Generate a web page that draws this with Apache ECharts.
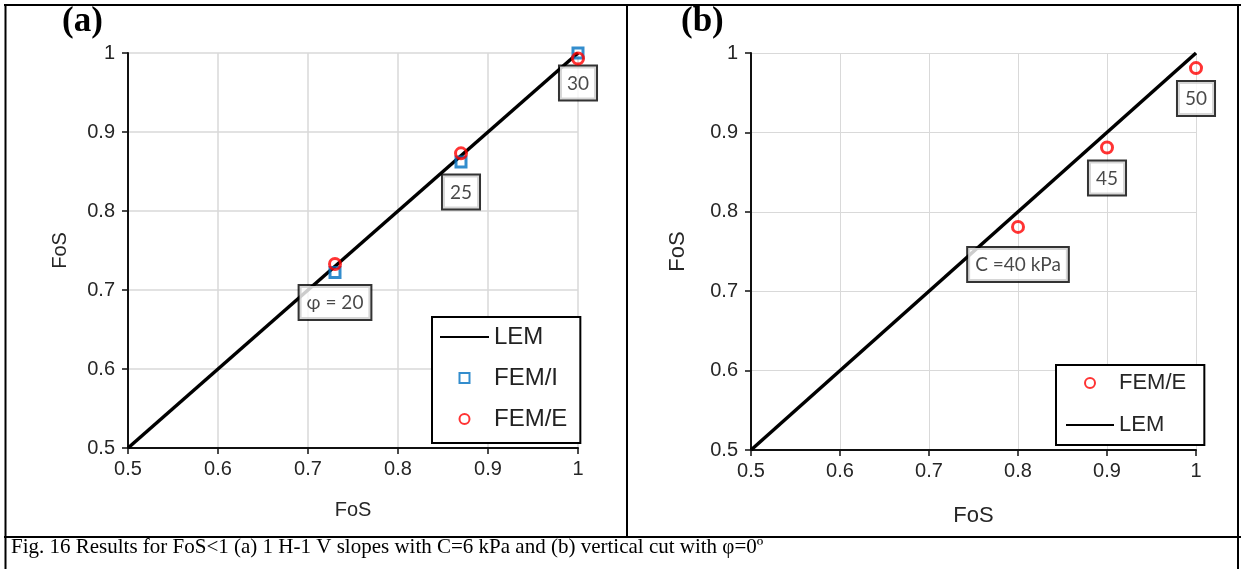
<!DOCTYPE html>
<html><head><meta charset="utf-8">
<script src="https://cdn.jsdelivr.net/npm/echarts@6/dist/echarts.min.js"></script>
<style>html,body{margin:0;padding:0;background:#fff}#c{width:1241px;height:569px}</style>
</head><body><div id="c"></div>
<script>
// ---- data ----
const lemX = [0.5, 1.0];
const lemY = [0.5, 1.0];
const aFemIX = [0.73, 0.87, 1.0];
const aFemIY = [0.722, 0.862, 1.0];
const aFemEX = [0.73, 0.87, 1.0];
const aFemEY = [0.733, 0.873, 0.993];
const aLabels = ['φ = 20', '25', '30'];
const bFemEX = [0.8, 0.9, 1.0];
const bFemEY = [0.781, 0.881, 0.981];
const bLabels = ['C =40 kPa', '45', '50'];
const axisMin = 0.5, axisMax = 1.0, axisStep = 0.1;
const axisTitle = 'FoS';
const panelA = '(a)', panelB = '(b)';
const caption = 'Fig. 16 Results for FoS<1 (a) 1 H-1 V slopes with C=6 kPa and (b) vertical cut with φ=0º';

// ---- helpers ----
const zip = (xs, ys) => xs.map((x, i) => [x, ys[i]]);
const SANS = 'Liberation Sans, Arial, sans-serif';
function mkAxis(gi, isX, nameGap, nameSize, gridW) {
  return {
    type: 'value', gridIndex: gi, min: axisMin, max: axisMax, interval: axisStep,
    name: axisTitle, nameLocation: 'middle', nameGap: nameGap,
    nameTextStyle: {fontFamily: SANS, fontSize: nameSize, color: '#262626'},
    axisLine: {show: true, onZero: false, lineStyle: {color: '#111', width: 2}},
    axisTick: {show: true, length: 6, inside: false, lineStyle: {color: '#111', width: 1.5}},
    axisLabel: {fontFamily: SANS, fontSize: 20, color: '#262626', margin: isX ? 11 : 13},
    splitLine: {show: true, lineStyle: {color: '#d9d9d9', width: gridW}}
  };
}
const labelBox = {
  show: true, position: 'bottom', distance: 7,
  backgroundColor: '#fff', borderColor: '#000', borderWidth: 2,
  padding: [6, 7, 5, 7], fontFamily: 'Lato, Open Sans, sans-serif', fontSize: 19,
  color: '#1a1a1a', lineHeight: 22
};
const hideDot = {opacity: 0};
const squareIcon = 'path://M0,0L10,0L10,10L0,10Z';

const chart = echarts.init(document.getElementById('c'), null, {renderer: 'canvas'});
const option = {
  backgroundColor: '#fff',
  animation: false,
  grid: [
    {left: 128, top: 53, width: 450, height: 395},
    {left: 751, top: 53, width: 445, height: 397}
  ],
  xAxis: [mkAxis(0, true, 52, 20, 1.5), mkAxis(1, true, 55, 22, 1)],
  yAxis: [mkAxis(0, false, 58, 20, 1.5), mkAxis(1, false, 62, 22, 1)],
  legend: [
    {
      left: 432, top: 317, orient: 'vertical', symbolKeepAspect: true,
      data: [{name: 'LEM', itemStyle: hideDot}, {name: 'FEM/I', icon: squareIcon}, {name: 'FEM/E'}],
      itemWidth: 49, itemHeight: 10, itemGap: 17,
      padding: [8, 13, 12, 7],
      borderColor: '#000', borderWidth: 2, backgroundColor: '#fff',
      textStyle: {fontFamily: SANS, fontSize: 24, color: '#222', lineHeight: 24}
    },
    {
      left: 1056, top: 365, orient: 'vertical', symbolKeepAspect: true,
      data: [{name: 'FEM/E '}, {name: 'LEM ', itemStyle: hideDot}],
      itemWidth: 48, itemHeight: 10, itemGap: 20,
      padding: [7, 12, 9, 9],
      borderColor: '#000', borderWidth: 2, backgroundColor: '#fff',
      textStyle: {fontFamily: SANS, fontSize: 22, color: '#262626', lineHeight: 22}
    }
  ],
  series: [
    {
      name: 'LEM', type: 'line', xAxisIndex: 0, yAxisIndex: 0,
      data: zip(lemX, lemY), symbol: 'none', z: 2,
      lineStyle: {color: '#000', width: 3.5}, itemStyle: {color: '#000'}
    },
    {
      name: 'FEM/I', type: 'scatter', xAxisIndex: 0, yAxisIndex: 0,
      data: zip(aFemIX, aFemIY), symbol: 'rect', symbolSize: 10, z: 3,
      itemStyle: {color: 'transparent', borderColor: '#0070C0', borderWidth: 3},
      label: Object.assign({}, labelBox, {formatter: p => aLabels[p.dataIndex]})
    },
    {
      name: 'FEM/E', type: 'scatter', xAxisIndex: 0, yAxisIndex: 0,
      data: zip(aFemEX, aFemEY), symbol: 'circle', symbolSize: 11, z: 4,
      itemStyle: {color: 'transparent', borderColor: '#FF0000', borderWidth: 3}
    },
    {
      name: 'FEM/E ', type: 'scatter', xAxisIndex: 1, yAxisIndex: 1,
      data: zip(bFemEX, bFemEY).map((d, i) => i === 0
        ? {value: d, label: {distance: 14}} : {value: d}),
      symbol: 'circle', symbolSize: 11, z: 4,
      itemStyle: {color: 'transparent', borderColor: '#FF0000', borderWidth: 3},
      label: Object.assign({}, labelBox, {formatter: p => bLabels[p.dataIndex]})
    },
    {
      name: 'LEM ', type: 'line', xAxisIndex: 1, yAxisIndex: 1,
      data: zip(lemX, lemY), symbol: 'none', z: 2,
      lineStyle: {color: '#000', width: 3.5}, itemStyle: {color: '#000'}
    }
  ],
  graphic: [
    {type: 'line', shape: {x1: 4, y1: 5, x2: 1241, y2: 5}, style: {stroke: '#000', lineWidth: 2}},
    {type: 'line', shape: {x1: 5.5, y1: 4, x2: 5.5, y2: 569}, style: {stroke: '#000', lineWidth: 2}},
    {type: 'line', shape: {x1: 627, y1: 5, x2: 627, y2: 537}, style: {stroke: '#000', lineWidth: 2}},
    {type: 'line', shape: {x1: 4, y1: 537, x2: 1241, y2: 537}, style: {stroke: '#000', lineWidth: 2}},
    {type: 'line', shape: {x1: 1238, y1: 4, x2: 1238, y2: 569}, style: {stroke: '#000', lineWidth: 2}},
    {type: 'text', left: 62, top: 4, style: {text: panelA, font: 'bold 35px Liberation Serif, Times New Roman, serif', fill: '#000'}},
    {type: 'text', left: 681, top: 4, style: {text: panelB, font: 'bold 35px Liberation Serif, Times New Roman, serif', fill: '#000'}},
    {type: 'text', left: 11, top: 537, style: {text: caption, font: '21px Liberation Serif, Times New Roman, serif', fill: '#000'}}
  ]
};
chart.setOption(option);
</script></body></html>
